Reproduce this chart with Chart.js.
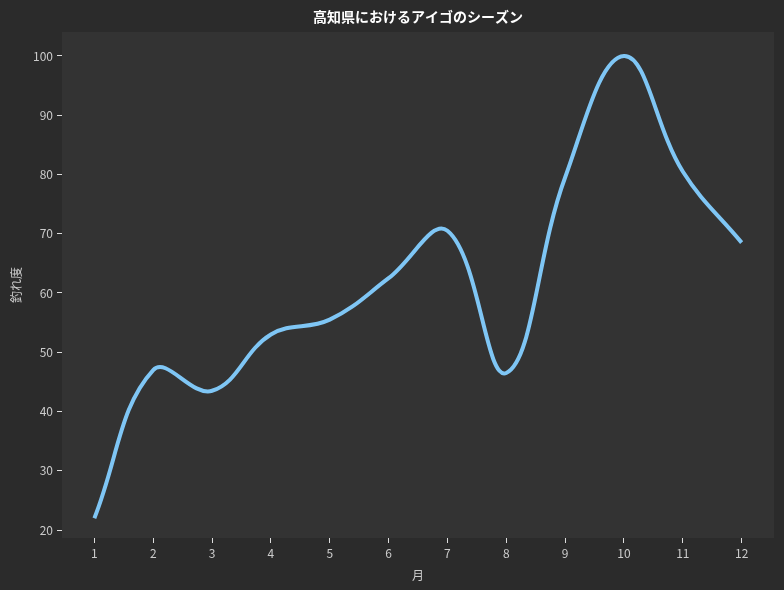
<!DOCTYPE html>
<html>
<head>
<meta charset="utf-8">
<script src="https://cdn.jsdelivr.net/npm/chart.js@4"></script>
<style>
  html, body { margin: 0; padding: 0; background: #2b2b2b; }
  #wrap { width: 784px; height: 590px; }
</style>
</head>
<body>
<div id="wrap"><canvas id="seasonChart"></canvas></div>
<script>
const months = [1, 2, 3, 4, 5, 6, 7, 8, 9, 10, 11, 12];
const catchIndex = [22, 47, 43.5, 53, 55.5, 62.5, 70.5, 46.5, 79.5, 100, 80.5, 68.5];
const yTicks = [20, 30, 40, 50, 60, 70, 80, 90, 100];
const chartTitle = "高知県におけるアイゴのシーズン";

const FONT = "'Noto Sans CJK JP', 'Noto Sans', sans-serif";

// plot area background + title centred on the plot area
const panel = {
  id: "panel",
  beforeDraw(chart) {
    const { ctx, chartArea: a } = chart;
    ctx.save();
    ctx.fillStyle = "#2b2b2b";
    ctx.fillRect(0, 0, chart.width, chart.height);
    ctx.fillStyle = "#333333";
    ctx.fillRect(a.left, a.top, a.right - a.left, a.bottom - a.top);
    ctx.restore();
  },
  afterDraw(chart) {
    const { ctx, chartArea: a } = chart;
    ctx.save();
    ctx.fillStyle = "#ffffff";
    ctx.font = "bold 14px " + FONT;
    ctx.textAlign = "center";
    ctx.textBaseline = "middle";
    ctx.fillText(chartTitle, (a.left + a.right) / 2, 17);
    ctx.restore();
  }
};

const ctx = document.getElementById("seasonChart").getContext("2d");

new Chart(ctx, {
  type: "line",
  data: {
    datasets: [
      {
        label: "釣れ度",
        data: months.map((m, i) => ({ x: m, y: catchIndex[i] })),
        borderColor: "#7fc6f5",
        borderWidth: 4,
        pointRadius: 0,
        tension: 0.4,
        fill: false,
      },
    ],
  },
  options: {
    responsive: true,
    maintainAspectRatio: false,
    animation: false,
    layout: { padding: { top: 32, right: 10, left: 0, bottom: 0 } },
    plugins: {
      legend: { display: false },
      title: { display: false },
      tooltip: { enabled: false },
    },
    scales: {
      x: {
        type: "linear",
        min: 0.45,
        max: 12.55,
        afterBuildTicks: (s) => { s.ticks = months.map((v) => ({ value: v })); },
        afterFit: (s) => { s.height = 52; },
        grid: { display: true, drawOnChartArea: false, drawTicks: true, tickLength: 5, tickColor: "#dddddd", tickWidth: 1 },
        border: { display: false },
        ticks: { color: "#cccccc", font: { family: FONT, size: 12 }, padding: 3, maxRotation: 0, autoSkip: false },
        title: { display: true, text: "月", color: "#cccccc", font: { family: FONT, size: 12 }, padding: { top: 2, bottom: 7 } },
      },
      y: {
        type: "linear",
        min: 18.65,
        max: 104.05,
        afterBuildTicks: (s) => { s.ticks = yTicks.map((v) => ({ value: v })); },
        afterFit: (s) => { s.width = 62; },
        grid: { display: true, drawOnChartArea: false, drawTicks: true, tickLength: 5, tickColor: "#dddddd", tickWidth: 1 },
        border: { display: false },
        ticks: { color: "#cccccc", font: { family: FONT, size: 12 }, padding: 4, autoSkip: false },
        title: { display: true, text: "釣れ度", color: "#cccccc", font: { family: FONT, size: 12 }, padding: { top: 9, bottom: 0 } },
      },
    },
  },
  plugins: [panel],
});
</script>
</body>
</html>
